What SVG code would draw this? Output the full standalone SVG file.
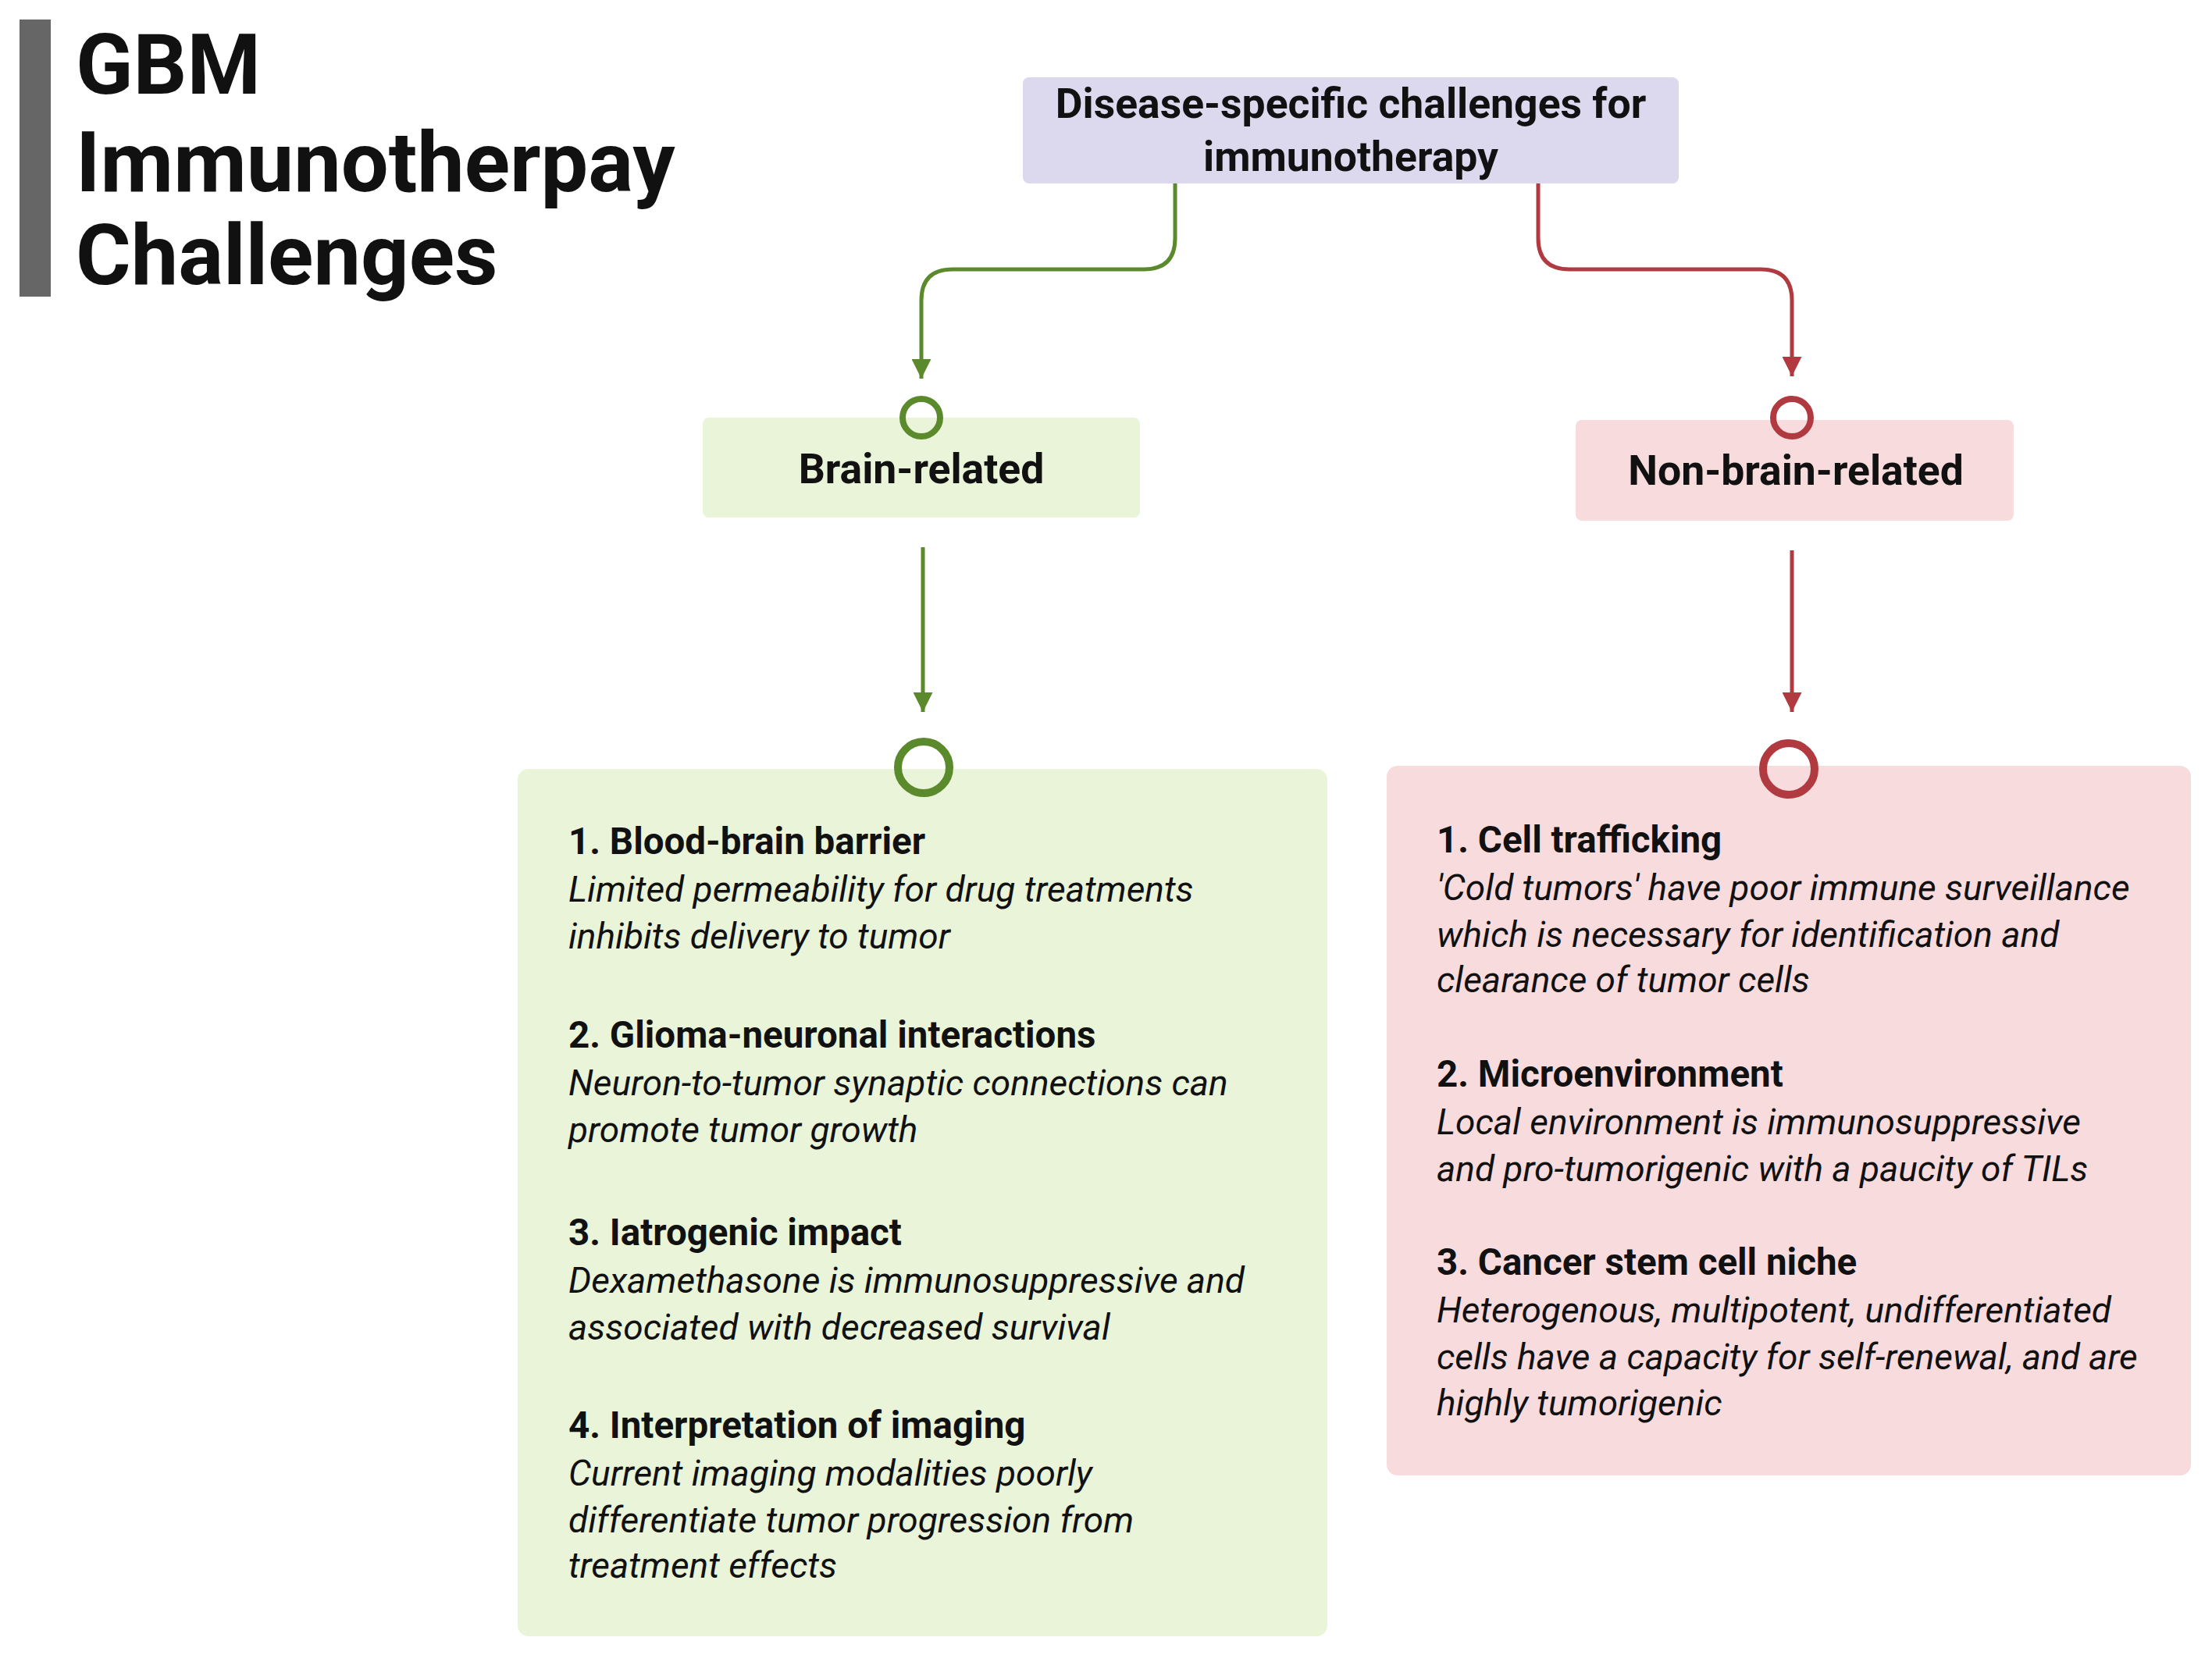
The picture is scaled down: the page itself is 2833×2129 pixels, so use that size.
<svg xmlns="http://www.w3.org/2000/svg" width="2833" height="2129" viewBox="0 0 2833 2129">
<style>
text{font-family:Roboto,"Liberation Sans",sans-serif;fill:#111}
.t{font-size:108px;font-weight:bold}
.h{font-size:53.5px;font-weight:bold}
.b{font-size:47.5px;font-weight:bold}
.i{font-size:46px;font-style:italic}
.g{stroke:#5b8a2c;fill:none}
.r{stroke:#b03a40;fill:none}
</style>
<defs>
<marker id="ag" viewBox="0 0 10 10" refX="10" refY="5" markerWidth="5" markerHeight="5" orient="auto"><path d="M0,0L10,5L0,10z" fill="#5b8a2c"/></marker>
<marker id="ar" viewBox="0 0 10 10" refX="10" refY="5" markerWidth="5" markerHeight="5" orient="auto"><path d="M0,0L10,5L0,10z" fill="#b03a40"/></marker>
</defs>
<rect width="2833" height="2129" fill="#fff"/>
<g id="title">
<rect x="25" y="25" width="40" height="355" fill="#666"/>
<text class="t" x="97" y="120">GBM</text>
<text class="t" x="97" y="245">Immunotherpay</text>
<text class="t" x="97" y="364">Challenges</text>
</g>
<g id="connectors" stroke-width="5">
<path class="g" d="M1505,235V305Q1505,345 1465,345H1220Q1180,345 1180,385V485" marker-end="url(#ag)"/>
<path class="r" d="M1970,235V305Q1970,345 2010,345H2255Q2295,345 2295,385V482" marker-end="url(#ar)"/>
<path class="g" d="M1182,701V912" marker-end="url(#ag)"/>
<path class="r" d="M2295,705V912" marker-end="url(#ar)"/>
</g>
<g id="top">
<rect x="1310" y="99" width="840" height="136" rx="8" fill="#dcd9ef"/>
<text class="h" x="1730" y="151" text-anchor="middle">Disease-specific challenges for</text>
<text class="h" x="1730" y="219" text-anchor="middle">immunotherapy</text>
</g>
<g id="brain">
<rect x="900" y="535" width="560" height="128" rx="8" fill="#e9f4d9"/>
<text class="h" x="1180" y="619" text-anchor="middle">Brain-related</text>
<circle class="g" cx="1180" cy="535" r="24" stroke-width="8" fill="#fff"/>
</g>
<g id="nonbrain">
<rect x="2018" y="538" width="561" height="129" rx="8" fill="#f8dcdd"/>
<text class="h" x="2300" y="621" text-anchor="middle">Non-brain-related</text>
<circle class="r" cx="2295" cy="535" r="24" stroke-width="8" fill="#fff"/>
</g>
<g id="brainlist">
<rect x="663" y="985" width="1037" height="1111" rx="14" fill="#e9f4d9"/>
<circle class="g" cx="1183" cy="983" r="33" stroke-width="10" fill="#e9f4d9"/>
<text class="b" x="728" y="1094">1. Blood-brain barrier</text>
<text class="i" x="728" y="1155">Limited permeability for drug treatments</text>
<text class="i" x="728" y="1215">inhibits delivery to tumor</text>
<text class="b" x="728" y="1342">2. Glioma-neuronal interactions</text>
<text class="i" x="728" y="1403">Neuron-to-tumor synaptic connections can</text>
<text class="i" x="728" y="1463">promote tumor growth</text>
<text class="b" x="728" y="1595">3. Iatrogenic impact</text>
<text class="i" x="728" y="1656">Dexamethasone is immunosuppressive and</text>
<text class="i" x="728" y="1716">associated with decreased survival</text>
<text class="b" x="728" y="1842">4. Interpretation of imaging</text>
<text class="i" x="728" y="1903">Current imaging modalities poorly</text>
<text class="i" x="728" y="1963">differentiate tumor progression from</text>
<text class="i" x="728" y="2021">treatment effects</text>
</g>
<g id="nonbrainlist">
<rect x="1776" y="981" width="1030" height="909" rx="14" fill="#f8dcdd"/>
<circle class="r" cx="2291" cy="985" r="33" stroke-width="10" fill="#f8dcdd"/>
<text class="b" x="1840" y="1092">1. Cell trafficking</text>
<text class="i" x="1840" y="1153">'Cold tumors' have poor immune surveillance</text>
<text class="i" x="1840" y="1213">which is necessary for identification and</text>
<text class="i" x="1840" y="1271">clearance of tumor cells</text>
<text class="b" x="1840" y="1392">2. Microenvironment</text>
<text class="i" x="1840" y="1453">Local environment is immunosuppressive</text>
<text class="i" x="1840" y="1513">and pro-tumorigenic with a paucity of TILs</text>
<text class="b" x="1840" y="1633">3. Cancer stem cell niche</text>
<text class="i" x="1840" y="1694">Heterogenous, multipotent, undifferentiated</text>
<text class="i" x="1840" y="1754">cells have a capacity for self-renewal, and are</text>
<text class="i" x="1840" y="1813">highly tumorigenic</text>
</g>
</svg>
